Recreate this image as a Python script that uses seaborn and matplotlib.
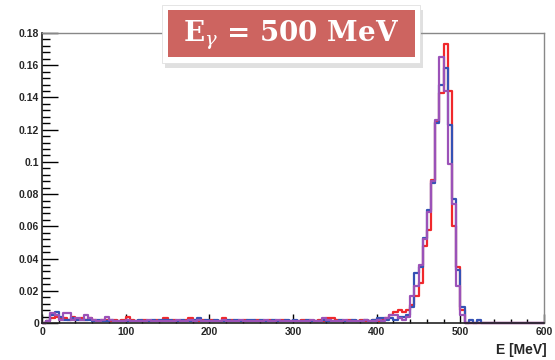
import numpy as np
import pandas as pd
import matplotlib
matplotlib.use("Agg")
import matplotlib.pyplot as plt
from matplotlib.patches import Rectangle
from matplotlib.ticker import MultipleLocator, FuncFormatter
import seaborn as sns

# 120 bins of 5 MeV, values in units of 1e-3
bin_edges = np.arange(0, 605, 5)
bin_centers = bin_edges[:-1] + 2.5

red_vals = [
    0, 1, 3, 4, 3, 3, 2, 4, 2, 3,
    2, 3, 2, 1, 2, 2, 1, 2, 1, 2,
    4, 2, 1, 1, 2, 1, 1, 2, 1, 3,
    1, 2, 1, 1, 2, 3, 1, 1, 2, 1,
    2, 1, 1, 3, 1, 2, 1, 1, 2, 1,
    1, 2, 1, 1, 2, 1, 1, 2, 1, 1,
    1, 1, 2, 1, 1, 1, 2, 1, 3, 3,
    2, 1, 1, 2, 1, 1, 2, 1, 1, 2,
    1, 2, 3, 5, 7, 8, 7, 8, 11, 17,
    25, 48, 58, 89, 125, 143, 173, 144, 60, 35,
    8, 0, 0, 0, 0, 0, 0, 0, 0, 0,
    0, 0, 0, 0, 0, 0, 0, 0, 0, 0,
]
blue_vals = [
    0, 1, 5, 7, 4, 2, 2, 3, 2, 2,
    2, 2, 1, 2, 1, 1, 2, 1, 1, 1,
    1, 1, 1, 2, 1, 1, 2, 1, 2, 2,
    2, 1, 1, 2, 1, 1, 2, 3, 1, 2,
    1, 2, 1, 1, 2, 1, 2, 1, 1, 2,
    2, 1, 2, 1, 1, 2, 1, 1, 2, 1,
    2, 1, 1, 2, 1, 1, 1, 2, 1, 1,
    1, 2, 1, 1, 2, 1, 1, 2, 1, 2,
    3, 3, 2, 3, 2, 4, 4, 5, 10, 31,
    35, 53, 70, 87, 124, 148, 158, 123, 77, 33,
    10, 0, 2, 0, 2, 0, 0, 0, 0, 0,
    0, 0, 0, 0, 0, 0, 0, 0, 0, 0,
]
purple_vals = [
    0, 1, 6, 5, 2, 6, 6, 2, 3, 2,
    5, 3, 2, 1, 2, 4, 2, 1, 1, 1,
    2, 1, 1, 1, 1, 2, 1, 1, 1, 1,
    1, 1, 2, 1, 1, 2, 1, 2, 1, 1,
    1, 1, 1, 2, 1, 1, 1, 2, 1, 1,
    1, 1, 1, 2, 1, 1, 2, 1, 1, 1,
    1, 1, 1, 1, 2, 1, 1, 3, 2, 1,
    1, 1, 2, 1, 1, 1, 1, 2, 1, 1,
    2, 1, 3, 5, 5, 3, 2, 4, 17, 23,
    36, 52, 69, 88, 126, 165, 144, 99, 74, 23,
    5, 0, 0, 0, 0, 0, 0, 0, 0, 0,
    0, 0, 0, 0, 0, 0, 0, 0, 0, 0,
]

series = [
    ("red", red_vals, "#f0282c"),
    ("blue", blue_vals, "#3552b5"),
    ("purple", purple_vals, "#9b52b8"),
]

sns.set_theme(style="white")
plt.rcParams["font.family"] = ["Liberation Sans", "DejaVu Sans"]
plt.rcParams["mathtext.fontset"] = "dejavuserif"

fig = plt.figure(figsize=(5.55, 3.6), dpi=100)
fig.patch.set_facecolor("white")
ax = fig.add_axes([0.0757, 0.1028, 0.9045, 0.8055])

for name, vals, col in series:
    df = pd.DataFrame({"E": bin_centers, "w": np.array(vals) * 1e-3})
    sns.histplot(data=df, x="E", weights="w", binwidth=5, binrange=(0, 600),
                 element="step", fill=False, color=col, linewidth=1.6, ax=ax,
                 clip_on=False)

ax.set_xlim(0, 600)
ax.set_ylim(0, 0.18)
ax.set_ylabel("")
ax.set_xlabel("E [MeV]", fontsize=10, fontweight="bold")
ax.xaxis.set_label_coords(1.006, -0.093)
ax.xaxis.label.set_horizontalalignment("right")
ax.xaxis.label.set_verticalalignment("center")

ax.xaxis.set_major_locator(MultipleLocator(100))
ax.xaxis.set_minor_locator(MultipleLocator(20))
ax.yaxis.set_major_locator(MultipleLocator(0.02))
ax.yaxis.set_minor_locator(MultipleLocator(0.004))
ax.yaxis.set_major_formatter(FuncFormatter(lambda v, p: "%g" % round(v, 3)))
ax.xaxis.set_major_formatter(FuncFormatter(lambda v, p: "%d" % v))

ax.tick_params(axis="y", which="major", direction="in", length=11.5, width=1,
               color="black", labelsize=7.5, pad=2)
ax.tick_params(axis="y", which="minor", direction="in", length=5.8, width=1, color="black")
ax.tick_params(axis="x", which="major", direction="in", length=6.5, width=1,
               color="black", labelsize=7.5, pad=3)
ax.tick_params(axis="x", which="minor", direction="in", length=3.2, width=1, color="black")
ax.tick_params(left=True, bottom=True, which="both")
for lab in ax.get_xticklabels() + ax.get_yticklabels():
    lab.set_fontweight("bold")

for s in ["left", "bottom"]:
    ax.spines[s].set_color("#222222")
    ax.spines[s].set_linewidth(1.2)
for s in ["top", "right"]:
    ax.spines[s].set_color("#888888")
    ax.spines[s].set_linewidth(1.0)

# title badge
fig.patches.append(Rectangle((0.298, 0.812), 0.465, 0.161, transform=fig.transFigure,
                             facecolor="#999999", alpha=0.3, edgecolor="none", zorder=5))
fig.patches.append(Rectangle((0.292, 0.825), 0.465, 0.161, transform=fig.transFigure,
                             facecolor="white", edgecolor="#e0e0e0", linewidth=0.6, zorder=6))
fig.patches.append(Rectangle((0.3027, 0.8417), 0.445, 0.1306, transform=fig.transFigure,
                             facecolor="#cd6460", edgecolor="none", zorder=7))
fig.text(0.525, 0.903, "E$_{\\gamma}$ = 500 MeV", color="white", fontsize=20,
         fontweight="bold", family="DejaVu Serif", ha="center", va="center", zorder=8)

fig.savefig("out.png", dpi=100, facecolor="white")
